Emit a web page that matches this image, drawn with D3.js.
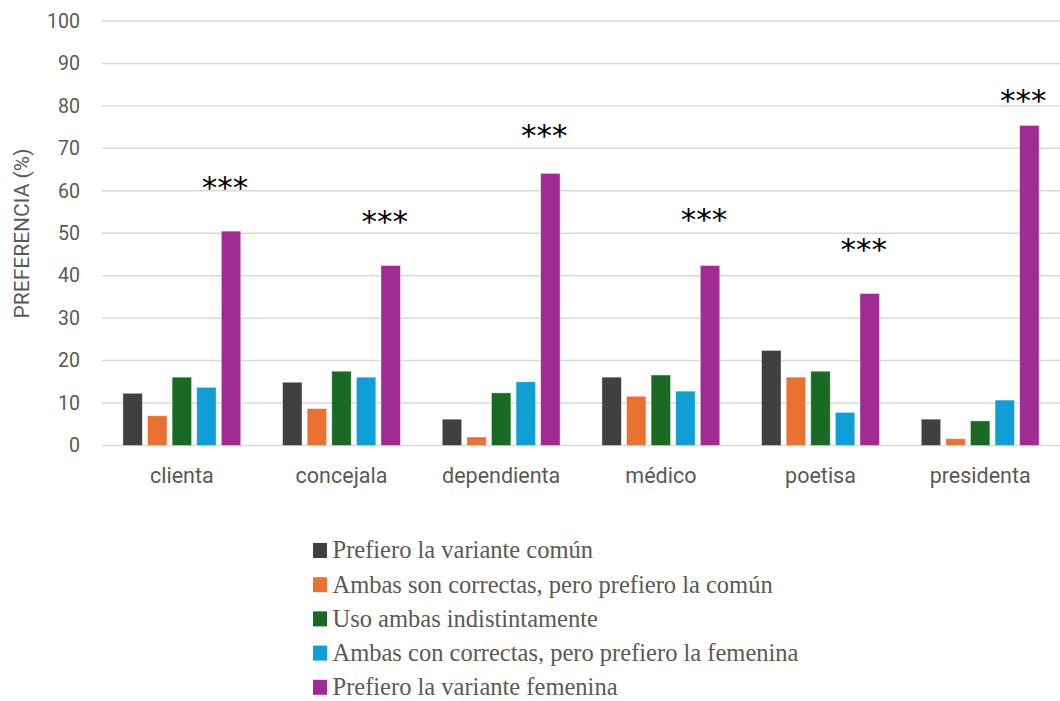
<!DOCTYPE html>
<html>
<head>
<meta charset="utf-8">
<script src="https://cdn.jsdelivr.net/npm/d3@7"></script>
<style>
  body { margin: 0; background: #fff; }
  svg { display: block; }
</style>
</head>
<body>
<div id="chart"></div>
<script>
// categories and series
const categories = ["clienta", "concejala", "dependienta", "médico", "poetisa", "presidenta"];
const seriesNames = [
  "Prefiero la variante común",
  "Ambas son correctas, pero prefiero la común",
  "Uso ambas indistintamente",
  "Ambas con correctas, pero prefiero la femenina",
  "Prefiero la variante femenina"
];
const seriesColors = ["#404040", "#E97132", "#196B24", "#0F9ED5", "#A02B93"];

// values per series, in category order
const comun = [12.3, 14.9, 6.2, 16.1, 22.4, 6.2];
const ambasComun = [7.0, 8.7, 2.0, 11.6, 16.1, 1.6];
const indistinto = [16.1, 17.5, 12.4, 16.6, 17.5, 5.8];
const ambasFemenina = [13.7, 16.1, 15.0, 12.8, 7.8, 10.7];
const femenina = [50.5, 42.4, 64.1, 42.4, 35.8, 75.4];
const seriesValues = [comun, ambasComun, indistinto, ambasFemenina, femenina];

// significance marks (value level where they sit)
const starLabels = ["***", "***", "***", "***", "***", "***"];
const starLevels = [61.8, 53.8, 74.1, 54.3, 47.2, 82.3];

const yTicks = [0, 10, 20, 30, 40, 50, 60, 70, 80, 90, 100];

const W = 1060, H = 701;
const svg = d3.select("#chart").append("svg")
  .attr("width", W).attr("height", H);

const x = d3.scaleBand().domain(categories).range([102, 1060]);
const xs = d3.scaleBand().domain(d3.range(seriesNames.length))
  .range([0, x.bandwidth()]).paddingInner(0.21).paddingOuter(0.85);
const y = d3.scaleLinear().domain([0, 100]).range([445.5, 21]);

// gridlines
svg.append("g")
  .selectAll("line")
  .data(yTicks)
  .enter().append("line")
    .attr("x1", 102).attr("x2", 1060)
    .attr("y1", d => y(d)).attr("y2", d => y(d))
    .attr("stroke", "#d9d9d9")
    .attr("stroke-width", 1.5);

// y axis labels
const yAxis = svg.append("g")
  .attr("transform", "translate(86,0)")
  .call(d3.axisLeft(y).tickValues(yTicks).tickSize(0).tickPadding(6));
yAxis.select(".domain").remove();
yAxis.selectAll("text")
  .attr("font-family", "Roboto, sans-serif")
  .attr("font-size", 19.5)
  .attr("fill", "#595959");

// y axis title
svg.append("text")
  .attr("transform", "translate(29,233.5) rotate(-90)")
  .attr("text-anchor", "middle")
  .attr("font-family", "Roboto, sans-serif")
  .attr("font-size", 21)
  .attr("fill", "#595959")
  .text("PREFERENCIA (%)");

// x axis labels
const xAxis = svg.append("g")
  .attr("transform", "translate(0,445.5)")
  .call(d3.axisBottom(x).tickSize(0).tickPadding(0));
xAxis.select(".domain").remove();
xAxis.selectAll("text")
  .attr("dy", null)
  .attr("y", 37.5)
  .attr("font-family", "Roboto, sans-serif")
  .attr("font-size", 21.5)
  .attr("fill", "#595959");

// bars
const groups = svg.append("g")
  .selectAll("g")
  .data(categories)
  .enter().append("g")
    .attr("transform", d => "translate(" + x(d) + ",0)");

groups.selectAll("rect")
  .data((c, ci) => seriesValues.map((vals, si) => ({si: si, v: vals[ci]})))
  .enter().append("rect")
    .attr("x", d => xs(d.si))
    .attr("width", xs.bandwidth())
    .attr("y", d => y(d.v))
    .attr("height", d => y(0) - y(d.v))
    .attr("fill", d => seriesColors[d.si])
    .attr("stroke", "#ffffff")
    .attr("stroke-opacity", 0.5)
    .attr("stroke-width", 0.8);

// significance stars
svg.append("g")
  .selectAll("text")
  .data(categories)
  .enter().append("text")
    .attr("x", (d, i) => x(d) + xs(4) + xs.bandwidth() / 2 - 6)
    .attr("y", (d, i) => y(starLevels[i]) + 15)
    .attr("text-anchor", "middle")
    .attr("font-family", "DejaVu Sans, sans-serif")
    .attr("font-size", 31)
    .attr("fill", "#000")
    .text((d, i) => starLabels[i]);

// legend
const legend = svg.append("g")
  .selectAll("g")
  .data(seriesNames)
  .enter().append("g")
    .attr("transform", (d, i) => "translate(313," + (550.5 + i * 34.2) + ")");

legend.append("rect")
  .attr("x", 0).attr("y", -7.5)
  .attr("width", 14).attr("height", 15)
  .attr("fill", (d, i) => seriesColors[i]);

legend.append("text")
  .attr("x", 19.5)
  .attr("y", 7.8)
  .attr("font-family", "Liberation Serif, serif")
  .attr("font-size", 24.5)
  .attr("fill", "#595959")
  .text(d => d);
</script>
</body>
</html>
